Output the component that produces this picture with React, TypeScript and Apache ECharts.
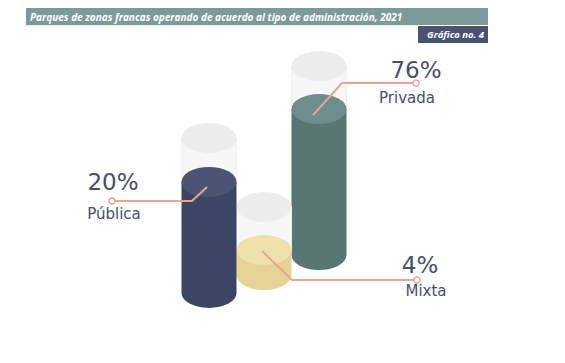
import React, { useEffect, useRef } from 'react';
import * as echarts from 'echarts';

// ---- data ----
const categories = ['Pública', 'Mixta', 'Privada'];
const shares = [20, 4, 76];
// the infographic is not drawn to scale; levels (axis units)
const baseLevel = [0, 7.1, 15];
const fillLevel = [43.9, 17.0, 72.7];
const emptyLevel = [61.3, 34.0, 89.7];

const title = 'Parques de zonas francas operando de acuerdo al tipo de administración, 2021';
const chartNo = 'Gráfico no. 4';

// ---- styles ----
const sideColors = ['#3c4562', '#e6d496', '#587773'];
const topColors = ['#4b5474', '#efe1aa', '#6e8d8b'];
const lineColor = '#e3a797';
const textColor = '#474e6b';

// callout geometry relative to the top-centre of each cylinder (px)
const callouts = [
  { anchor: [-2, 5], elbow: [-17, 19], end: [-97, 19], pct: [1, -19], name: [2, 13] },
  { anchor: [-2, 1], elbow: [28, 30], end: [153, 30], pct: [3, -15], name: [9, 11] },
  { anchor: [-6, 6], elbow: [23, -26], end: [97, -26], pct: [0, -13], name: [-9, 15] },
];

const RY = 15;

export default function App() {
  const ref = useRef<HTMLDivElement>(null);
  useEffect(() => {
    if (!ref.current) return;
    const chart = echarts.init(ref.current, undefined, { renderer: 'svg' });
    const order = [2, 1, 0];
    const data = order.map((i) => [i, baseLevel[i], fillLevel[i], emptyLevel[i], shares[i]]);

    const cylinder = (params: any, api: any) => {
      const i = api.value(0);
      const b = api.coord([i, api.value(1)]);
      const t = api.coord([i, api.value(2)]);
      const g = api.coord([i, api.value(3)]);
      const w = api.size([1, 0])[0];
      const rx = w / 2;
      const cx = b[0];
      const x0 = cx - rx;
      const x1 = cx + rx;
      const body = (yTop: number, yBot: number) =>
        `M${x0},${yTop} L${x0},${yBot} A${rx},${RY} 0 0 0 ${x1},${yBot} L${x1},${yTop} Z`;
      const ell = (y: number) =>
        `M${x0},${y} A${rx},${RY} 0 1 0 ${x1},${y} A${rx},${RY} 0 1 0 ${x0},${y} Z`;
      return {
        type: 'group',
        children: [
          { type: 'path', shape: { pathData: body(g[1], t[1]) }, style: { fill: '#f7f7f7', stroke: '#efefef', lineWidth: 1 } },
          { type: 'path', shape: { pathData: ell(g[1]) }, style: { fill: '#ececec' } },
          { type: 'path', shape: { pathData: body(t[1], b[1]) }, style: { fill: sideColors[i] } },
          { type: 'path', shape: { pathData: ell(t[1]) }, style: { fill: topColors[i] } },
        ],
      };
    };

    const callout = (params: any, api: any) => {
      const i = api.value(0);
      const t = api.coord([i, api.value(2)]);
      const c = callouts[i];
      const p = (o: number[]) => [t[0] + o[0], t[1] + o[1]];
      const a = p(c.anchor);
      const e1 = p(c.elbow);
      const e = p(c.end);
      return {
        type: 'group',
        children: [
          { type: 'polyline', shape: { points: [a, e1, e] }, style: { stroke: lineColor, lineWidth: 2, fill: null } },
          { type: 'circle', shape: { cx: e[0], cy: e[1], r: 3 }, style: { fill: '#ffffff', stroke: lineColor, lineWidth: 1.5 } },
          {
            type: 'text', x: e[0] + c.pct[0], y: e[1] + c.pct[1],
            style: { text: api.value(4) + '%', fill: textColor, fontSize: 23, fontFamily: 'DejaVu Sans', align: 'center', verticalAlign: 'middle' },
          },
          {
            type: 'text', x: e[0] + c.name[0], y: e[1] + c.name[1],
            style: { text: categories[i], fill: textColor, fontSize: 15, fontFamily: 'DejaVu Sans', align: 'center', verticalAlign: 'middle' },
          },
        ],
      };
    };

    chart.setOption({
      animation: false,
      grid: { left: 181.5, right: 218.5, top: 40, bottom: 70 },
      xAxis: { type: 'category', data: categories, show: false },
      yAxis: { type: 'value', min: 0, max: 100, show: false },
      graphic: [
        { type: 'rect', shape: { x: 26, y: 25, width: 392, height: 1 }, style: { fill: '#ececec' } },
        { type: 'rect', shape: { x: 26, y: 8, width: 462, height: 17 }, style: { fill: '#7c9a99' } },
        {
          type: 'text', x: 30, y: 16.5,
          style: { text: title, fill: '#ffffff', font: 'italic bold 10px "Open Sans", sans-serif', verticalAlign: 'middle' },
        },
        { type: 'rect', shape: { x: 418, y: 26, width: 70, height: 17 }, style: { fill: '#4b5270' } },
        {
          type: 'text', x: 484, y: 34.5,
          style: { text: chartNo, fill: '#ffffff', font: 'italic bold 9.5px "Open Sans", sans-serif', align: 'right', verticalAlign: 'middle' },
        },
      ],
      series: [
        { type: 'custom', renderItem: cylinder, data, silent: true, z: 2 },
        { type: 'custom', renderItem: callout, data, silent: true, z: 3 },
      ],
    });
    return () => chart.dispose();
  }, []);
  return <div ref={ref} style={{ width: 565, height: 363, position: 'absolute', left: 0, top: 0 }} />;
}
